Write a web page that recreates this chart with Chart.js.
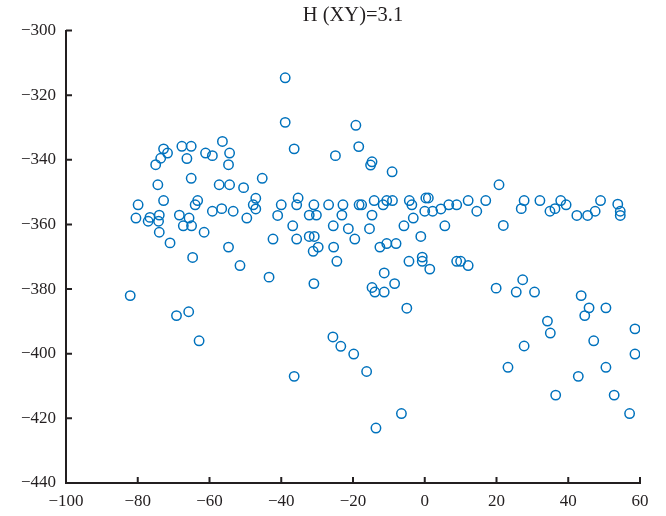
<!DOCTYPE html>
<html>
<head>
<meta charset="utf-8">
<style>
  html, body { margin: 0; padding: 0; background: #fff; }
  #wrap { width: 666px; height: 516px; }
</style>
<script src="https://cdn.jsdelivr.net/npm/chart.js@4"></script>
</head>
<body>
<div id="wrap"><canvas id="scatterChart" width="666" height="516"></canvas></div>
<script>
// values
const xValues = [
  -56.4, -72.8, -71.7, -67.7, -65.1, -73.6, -75.0, -66.3, -61.1, -59.2,
  -54.4, -54.7, -65.1, -45.3, -74.4, -57.3, -54.4, -50.5, -79.9, -72.8,
  -63.3, -64.0, -47.1, -47.8, -47.1, -40.0, -80.5, -76.6, -77.1, -74.0,
  -74.2, -68.4, -65.7, -67.3, -65.0, -74.0, -59.2, -56.6, -53.4, -49.6,
  -41.0, -61.5, -71.0, -42.3, -54.7, -64.7, -51.5, -43.4, -82.1, -69.2,
  -65.8, -62.9,
  -38.9, -38.9, -19.2, -36.4, -18.4, -24.9, -14.7, -15.1, -9.1, -35.3,
  -35.7, -30.9, -26.8, -22.8, -18.3, -17.6, -14.1, -11.6, -10.6, -9.0,
  -4.3, -3.6, 0.3, 1.0, 6.7, 8.9, 12.1, 14.5, -32.2, -30.2,
  -23.1, -14.7, 0.0, 2.2, 4.5, -3.2, -36.8, -25.5, -21.3, -15.4,
  -5.8, 5.6, -35.7, -32.2, -30.8, -19.5, -1.1,
  -29.7, -31.1, -25.4, -12.5, -10.6, -8.0, -24.5, -4.4, -0.7, -0.7,
  1.4, 8.9, 10.0, 12.1, -30.9, -11.3, -14.7, -13.9, -11.3, -8.4,
  -5.0, -25.6, -23.4, -19.8, -16.2, -36.4, -6.5, -13.6,
  20.7, 17.0, 21.9, 27.7, 26.9, 32.1, 37.9, 39.4, 36.3, 34.9,
  42.4, 45.4, 47.5, 49.0, 53.8, 54.5, 54.5, 27.3, 19.9, 25.5,
  30.6, 43.6, 45.8, 50.5, 44.6, 34.2, 35.0, 58.6, 47.1, 27.7,
  58.6, 23.2, 42.8, 50.5, 36.5, 52.8, 57.1
];
const yValues = [
  -334.3, -336.6, -337.9, -335.8, -335.8, -339.5, -341.5, -339.6, -337.9, -338.7,
  -337.9, -341.5, -345.7, -345.7, -347.7, -347.7, -347.7, -348.6, -353.9, -352.6,
  -352.6, -353.9, -351.9, -353.9, -355.2, -353.9, -358.0, -357.8, -359.0, -357.1,
  -359.0, -357.1, -358.0, -360.4, -360.4, -362.4, -355.9, -355.1, -355.9, -358.0,
  -357.2, -362.4, -365.7, -364.5, -367.0, -370.2, -372.7, -376.3, -382.0, -388.2,
  -387.0, -396.0,
  -314.6, -328.4, -329.3, -336.6, -335.9, -338.7, -340.6, -341.6, -343.7, -351.8,
  -353.9, -353.9, -353.9, -353.9, -353.9, -353.9, -352.6, -353.9, -352.6, -352.6,
  -352.6, -353.9, -351.8, -351.8, -353.9, -353.9, -352.6, -355.9, -357.1, -357.1,
  -357.1, -357.1, -355.9, -355.9, -355.2, -358.0, -360.4, -360.4, -361.3, -361.3,
  -360.4, -360.4, -364.5, -363.7, -363.7, -364.5, -363.7,
  -367.0, -368.3, -367.0, -367.0, -365.9, -365.9, -371.4, -371.4, -370.1, -371.4,
  -373.8, -371.4, -371.4, -372.7, -378.3, -375.0, -379.5, -380.9, -380.9, -378.3,
  -385.9, -394.8, -397.7, -400.1, -405.5, -407.0, -418.5, -423.0,
  -347.7, -352.6, -360.3, -352.6, -355.1, -352.6, -352.6, -353.9, -355.1, -355.9,
  -357.2, -357.2, -355.9, -352.6, -353.7, -355.9, -357.2, -377.1, -379.7, -380.9,
  -380.9, -382.0, -385.8, -385.8, -388.2, -389.9, -393.6, -392.3, -396.0, -397.6,
  -400.1, -404.2, -407.0, -404.2, -412.8, -412.8, -418.5
];
const titleText = 'H (XY)=3.1';
const xTicks = [-100, -80, -60, -40, -20, 0, 20, 40, 60];
const yTicks = [-440, -420, -400, -380, -360, -340, -320, -300];

const points = xValues.map((x, i) => ({ x: x, y: yValues[i] }));

const inkColor = '#231f20';
const minusSign = v => String(v).replace('-', '\u2212');

// short tick marks pointing into the plot, like the original
const innerTicks = {
    id: 'innerTicks',
    afterDatasetsDraw(chart) {
        const ctx = chart.ctx;
        const area = chart.chartArea;
        const xs = chart.scales.x;
        const ys = chart.scales.y;
        ctx.save();
        ctx.strokeStyle = inkColor;
        ctx.lineWidth = 2;
        ctx.beginPath();
        xTicks.forEach(v => {
            const px = xs.getPixelForValue(v);
            ctx.moveTo(px, area.bottom);
            ctx.lineTo(px, area.bottom - 6);
        });
        yTicks.forEach(v => {
            const py = ys.getPixelForValue(v);
            ctx.moveTo(area.left, py);
            ctx.lineTo(area.left + 6, py);
        });
        ctx.stroke();
        ctx.restore();
    }
};

Chart.defaults.font.family = '"Liberation Serif", "DejaVu Serif", serif';
Chart.defaults.color = inkColor;

const ctx = document.getElementById('scatterChart').getContext('2d');
const chart = new Chart(ctx, {
    type: 'scatter',
    data: {
        datasets: [{
            data: points,
            pointStyle: 'circle',
            pointRadius: 4.7,
            pointBorderWidth: 1.5,
            pointBorderColor: '#0072bd',
            pointBackgroundColor: 'rgba(0,0,0,0)',
        }]
    },
    options: {
        responsive: false,
        animation: false,
        layout: { padding: { left: 0, right: 26, top: 0, bottom: 0 } },
        plugins: {
            legend: { display: false },
            tooltip: { enabled: false },
            title: {
                display: true,
                text: titleText,
                fullSize: false,
                color: inkColor,
                font: { size: 20.5, weight: 'normal' },
                padding: { top: 3, bottom: 3 }
            }
        },
        scales: {
            x: {
                type: 'linear',
                min: -100,
                max: 60,
                afterBuildTicks: s => { s.ticks = xTicks.map(v => ({ value: v })); },
                afterFit: s => { s.height = 33; },
                grid: { display: true, drawOnChartArea: false, drawTicks: false },
                border: { display: true, color: inkColor, width: 2 },
                ticks: {
                    padding: 8,
                    maxRotation: 0,
                    font: { size: 17 },
                    color: inkColor,
                    callback: minusSign
                }
            },
            y: {
                type: 'linear',
                min: -440,
                max: -300,
                afterBuildTicks: s => { s.ticks = yTicks.map(v => ({ value: v })); },
                afterFit: s => { s.width = 66; },
                grid: { display: true, drawOnChartArea: false, drawTicks: false },
                border: { display: true, color: inkColor, width: 2 },
                ticks: {
                    padding: 10,
                    font: { size: 17 },
                    color: inkColor,
                    callback: minusSign
                }
            }
        }
    },
    plugins: [innerTicks]
});
</script>
</body>
</html>
